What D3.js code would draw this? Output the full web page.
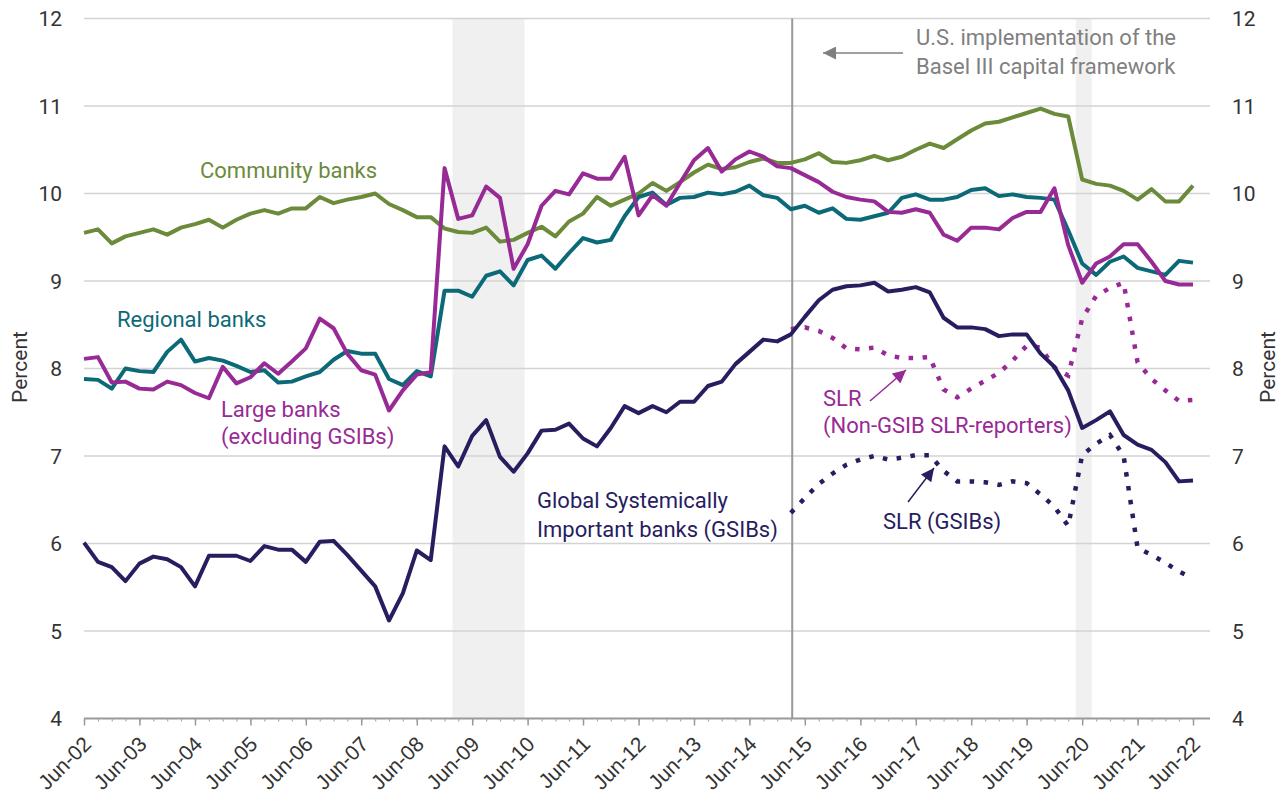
<!DOCTYPE html>
<html>
<head>
<meta charset="utf-8">
<script src="https://cdn.jsdelivr.net/npm/d3@7"></script>
<style>
  body { margin: 0; background: #fff; }
  svg { font-family: Roboto, 'Open Sans', sans-serif; }
  .grid line { stroke: #d3d3d3; stroke-width: 1.5; }
  .ylab text, .xaxis text { fill: #333; font-size: 21px; }
  .series { fill: none; stroke-width: 4; stroke-linejoin: round; }
  .slr { fill: none; stroke-width: 4.5; stroke-dasharray: 4.5 9.5; }
  .note { font-size: 22px; }
</style>
</head>
<body>
<svg width="1284" height="799"></svg>
<script>
(function (d3) {
  'use strict';

  // x categories: quarterly, Jun-02 .. Jun-22
  const tickLabels = ['Jun-02', 'Jun-03', 'Jun-04', 'Jun-05', 'Jun-06', 'Jun-07', 'Jun-08',
    'Jun-09', 'Jun-10', 'Jun-11', 'Jun-12', 'Jun-13', 'Jun-14', 'Jun-15', 'Jun-16',
    'Jun-17', 'Jun-18', 'Jun-19', 'Jun-20', 'Jun-21', 'Jun-22'];
  const yTicks = [4, 5, 6, 7, 8, 9, 10, 11, 12];

  const community = [9.55, 9.59, 9.43,
    9.51, 9.55, 9.59, 9.53, 9.61, 9.65, 9.70, 9.61, 9.70, 9.77, 9.81, 9.77,
    9.83, 9.83, 9.96, 9.89, 9.93, 9.96, 10.00, 9.88, 9.81, 9.73, 9.73, 9.60,
    9.56, 9.55, 9.61, 9.45, 9.47, 9.55, 9.62, 9.51, 9.68, 9.77, 9.96, 9.86,
    9.93, 10.00, 10.12, 10.03, 10.13, 10.24, 10.33, 10.28, 10.30, 10.36, 10.40, 10.35,
    10.35, 10.39, 10.46, 10.36, 10.35, 10.38, 10.43, 10.38, 10.42, 10.50, 10.57, 10.52,
    10.62, 10.72, 10.80, 10.82, 10.87, 10.92, 10.97, 10.91, 10.88, 10.16, 10.11, 10.09,
    10.03, 9.93, 10.05, 9.91, 9.91, 10.09];

  const regional = [7.88, 7.87, 7.77,
    8.00, 7.97, 7.96, 8.19, 8.33, 8.08, 8.12, 8.09, 8.03, 7.96, 7.98, 7.84,
    7.85, 7.91, 7.96, 8.10, 8.20, 8.17, 8.17, 7.88, 7.81, 7.97, 7.91, 8.89,
    8.89, 8.82, 9.06, 9.11, 8.95, 9.24, 9.29, 9.14, 9.32, 9.49, 9.44, 9.47,
    9.74, 9.96, 10.01, 9.87, 9.95, 9.96, 10.01, 9.99, 10.02, 10.09, 9.98, 9.95,
    9.82, 9.86, 9.78, 9.83, 9.71, 9.70, 9.74, 9.78, 9.95, 9.99, 9.93, 9.93,
    9.96, 10.04, 10.06, 9.97, 9.99, 9.96, 9.95, 9.93, 9.58, 9.20, 9.07, 9.22,
    9.28, 9.15, 9.11, 9.07, 9.23, 9.21];

  const large = [8.11, 8.13, 7.84,
    7.85, 7.77, 7.76, 7.85, 7.81, 7.72, 7.66, 8.02, 7.83, 7.90, 8.06, 7.94,
    8.08, 8.23, 8.57, 8.46, 8.17, 7.98, 7.93, 7.52, 7.75, 7.93, 7.96, 10.29,
    9.71, 9.75, 10.08, 9.95, 9.14, 9.42, 9.86, 10.03, 9.99, 10.23, 10.17, 10.17,
    10.42, 9.75, 9.98, 9.86, 10.12, 10.38, 10.52, 10.25, 10.39, 10.48, 10.42, 10.31,
    10.29, 10.21, 10.13, 10.02, 9.96, 9.93, 9.91, 9.79, 9.78, 9.82, 9.78, 9.53,
    9.46, 9.61, 9.61, 9.59, 9.72, 9.79, 9.79, 10.06, 9.41, 8.98, 9.20, 9.28,
    9.42, 9.42, 9.22, 9.00, 8.96, 8.96];

  const gsib = [6.01, 5.79, 5.73,
    5.57, 5.77, 5.85, 5.82, 5.73, 5.51, 5.86, 5.86, 5.86, 5.80, 5.97, 5.93,
    5.93, 5.79, 6.02, 6.03, 5.87, 5.69, 5.51, 5.12, 5.43, 5.92, 5.81, 7.11,
    6.88, 7.23, 7.41, 6.99, 6.82, 7.03, 7.29, 7.30, 7.37, 7.20, 7.11, 7.32,
    7.57, 7.49, 7.57, 7.50, 7.62, 7.62, 7.80, 7.85, 8.05, 8.19, 8.33, 8.31,
    8.39, 8.59, 8.78, 8.90, 8.94, 8.95, 8.98, 8.88, 8.90, 8.93, 8.87, 8.58,
    8.47, 8.47, 8.45, 8.37, 8.39, 8.39, 8.17, 8.02, 7.75, 7.32, 7.41, 7.51,
    7.24, 7.13, 7.07, 6.93, 6.71, 6.72];

  // SLR series start at Mar-15 (quarter index 51)
  const slrStart = 51;
  const slrNonGsib = [8.45, 8.47, 8.43, 8.35, 8.23, 8.22, 8.24, 8.15,
    8.12, 8.12, 8.13, 7.76, 7.67, 7.77, 7.86, 7.95, 8.09, 8.26, 8.24, 8.01,
    7.92, 8.57, 8.83, 8.92, 8.98, 8.07, 7.88, 7.75, 7.63, 7.64];
  const slrGsib = [6.35, 6.52, 6.68, 6.80, 6.90, 6.96, 7.00, 6.96,
    6.98, 7.01, 7.01, 6.83, 6.71, 6.71, 6.70, 6.67, 6.71, 6.69, 6.56, 6.42,
    6.20, 7.01, 7.14, 7.24, 7.00, 5.95, 5.87, 5.78, 5.68, 5.60];

  const shaded = [[new Date(2009, 0, 22), new Date(2010, 4, 12)],
    [new Date(2020, 3, 20), new Date(2020, 7, 3)]];
  const baselDate = new Date(2015, 2, 10);

  const colors = {
    community: '#6b8a3a',
    regional: '#0c6a78',
    large: '#982a96',
    gsib: '#271d5f',
    gray: '#808080'
  };

  const left = 84, right = 1210, top = 18.5, bottom = 718.5;
  const start = new Date(2002, 5, 1);
  const quarters = d3.range(community.length).map(i => d3.timeMonth.offset(start, 3 * i));
  const junDates = tickLabels.map((d, i) => d3.timeMonth.offset(start, 12 * i));

  const x = d3.scaleTime()
    .domain([start, quarters[quarters.length - 1]])
    .range([left, 1193]);
  const y = d3.scaleLinear().domain([4, 12]).range([bottom, top]);

  const svg = d3.select('svg');

  // recession-style shading
  svg.append('g').selectAll('rect').data(shaded)
    .enter().append('rect')
      .attr('x', d => x(d[0]))
      .attr('width', d => x(d[1]) - x(d[0]))
      .attr('y', top)
      .attr('height', bottom - top)
      .attr('fill', '#f0f0f0');

  svg.append('g').attr('class', 'grid')
    .selectAll('line').data(yTicks.filter(d => d > 4))
    .enter().append('line')
      .attr('x1', left).attr('x2', right)
      .attr('y1', y).attr('y2', y);

  // y labels, both sides
  const ylab = svg.append('g').attr('class', 'ylab');
  ylab.selectAll('.l').data(yTicks).enter().append('text')
    .attr('class', 'l')
    .attr('x', 62).attr('y', y).attr('dy', '0.36em')
    .attr('text-anchor', 'end')
    .text(d => d);
  ylab.selectAll('.r').data(yTicks).enter().append('text')
    .attr('class', 'r')
    .attr('x', 1232).attr('y', y).attr('dy', '0.36em')
    .text(d => d);
  ylab.append('text').attr('transform', 'translate(27,367) rotate(-90)')
    .attr('text-anchor', 'middle').text('Percent');
  ylab.append('text').attr('transform', 'translate(1275,367) rotate(-90)')
    .attr('text-anchor', 'middle').text('Percent');

  // x axis
  svg.append('line')
    .attr('x1', left).attr('x2', right)
    .attr('y1', bottom).attr('y2', bottom)
    .attr('stroke', '#999').attr('stroke-width', 2);

  const minor = svg.append('g')
    .attr('transform', `translate(0,${bottom})`)
    .call(d3.axisBottom(x).tickValues(quarters).tickSize(3).tickFormat(''));
  minor.select('.domain').remove();
  minor.selectAll('line').attr('stroke', '#aaa').attr('stroke-width', 1.2);

  const xAxis = svg.append('g')
    .attr('class', 'xaxis')
    .attr('transform', `translate(0,${bottom})`)
    .attr('font-family', null).attr('font-size', null)
    .call(d3.axisBottom(x).tickValues(junDates).tickSize(7)
      .tickFormat((d, i) => tickLabels[i]));
  xAxis.select('.domain').remove();
  xAxis.selectAll('.tick line').attr('stroke', '#999').attr('stroke-width', 1.5);
  xAxis.selectAll('.tick text')
    .attr('y', 0).attr('dy', 0)
    .attr('text-anchor', 'end')
    .attr('transform', 'translate(8,27) rotate(-45)');

  // Basel III line
  svg.append('line')
    .attr('x1', x(baselDate)).attr('x2', x(baselDate))
    .attr('y1', top).attr('y2', bottom)
    .attr('stroke', '#999').attr('stroke-width', 2);

  const defs = svg.append('defs');
  const marker = (id, color) => defs.append('marker')
    .attr('id', id)
    .attr('markerUnits', 'userSpaceOnUse')
    .attr('viewBox', '0 0 10 10')
    .attr('refX', 10).attr('refY', 5)
    .attr('markerWidth', 16).attr('markerHeight', 13)
    .attr('orient', 'auto')
    .append('path').attr('d', 'M0,0L10,5L0,10Z').attr('fill', color);
  marker('arrGray', colors.gray);
  marker('arrPurple', colors.large);
  marker('arrNavy', colors.gsib);

  // series
  const line = d3.line()
    .x((d, i) => x(quarters[i]))
    .y(d => y(d));
  const slrLine = d3.line()
    .x((d, i) => x(quarters[slrStart + i]))
    .y(d => y(d));

  svg.append('path').attr('class', 'slr').attr('d', slrLine(slrNonGsib)).attr('stroke', colors.large);
  svg.append('path').attr('class', 'slr').attr('d', slrLine(slrGsib)).attr('stroke', colors.gsib);

  [[community, colors.community], [regional, colors.regional],
   [gsib, colors.gsib], [large, colors.large]].forEach(([values, color]) => {
    svg.append('path').attr('class', 'series')
      .attr('d', line(values))
      .attr('stroke', color);
  });

  // annotations
  const note = (lines, px, py, color, lh) => {
    const t = svg.append('text').attr('class', 'note').attr('fill', color);
    lines.forEach((s, i) => t.append('tspan').attr('x', px).attr('y', py + i * lh).text(s));
  };
  note(['Community banks'], 200, 178, colors.community, 0);
  note(['Regional banks'], 117, 327, colors.regional, 0);
  note(['Large banks', '(excluding GSIBs)'], 221, 417, colors.large, 27);
  note(['Global Systemically', 'Important banks (GSIBs)'], 537, 508, colors.gsib, 29);
  note(['SLR', '(Non-GSIB SLR-reporters)'], 823, 406, colors.large, 27);
  note(['SLR (GSIBs)'], 883, 529, colors.gsib, 0);
  note(['U.S. implementation of the', 'Basel III capital framework'], 916, 45, colors.gray, 29);

  svg.append('line')
    .attr('x1', 903).attr('y1', 53).attr('x2', 823).attr('y2', 53)
    .attr('stroke', colors.gray).attr('stroke-width', 1.5)
    .attr('marker-end', 'url(#arrGray)');
  svg.append('line')
    .attr('x1', 870).attr('y1', 401).attr('x2', 906).attr('y2', 370)
    .attr('stroke', colors.large).attr('stroke-width', 1.5)
    .attr('marker-end', 'url(#arrPurple)');
  svg.append('line')
    .attr('x1', 908).attr('y1', 502).attr('x2', 934).attr('y2', 468)
    .attr('stroke', colors.gsib).attr('stroke-width', 1.5)
    .attr('marker-end', 'url(#arrNavy)');

}(d3));
</script>
</body>
</html>
